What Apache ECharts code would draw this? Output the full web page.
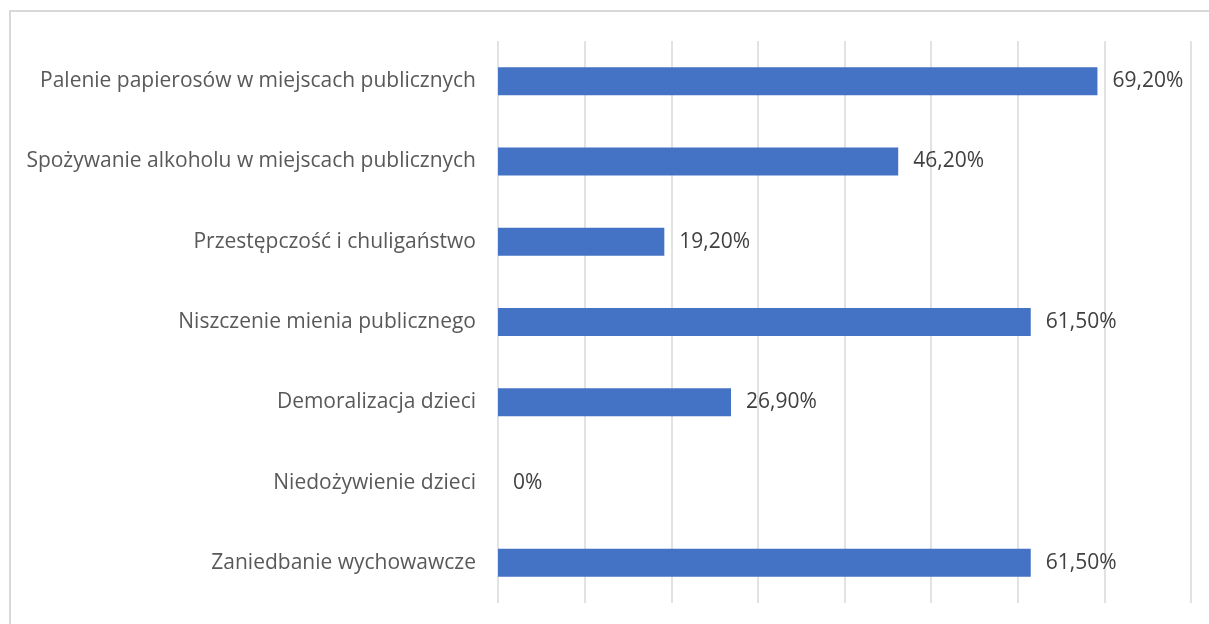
<!DOCTYPE html>
<html>
<head>
<meta charset="utf-8">
<script src="https://cdn.jsdelivr.net/npm/echarts@6/dist/echarts.min.js"></script>
<style>
  html, body { margin: 0; padding: 0; background: #fff; }
  #frame {
    position: absolute; left: 9px; top: 10px; width: 1260px; height: 680px;
    border-top: 2px solid #d9d9d9; border-left: 2px solid #d9d9d9;
    box-sizing: border-box;
  }
  #chart { position: absolute; left: 0; top: 0; width: 1209px; height: 624px; }
</style>
</head>
<body>
<div id="frame"></div>
<div id="chart"></div>
<script>
// categories from top to bottom, as in the picture
const categories = [
  'Palenie papierosów w miejscach publicznych',
  'Spożywanie alkoholu w miejscach publicznych',
  'Przestępczość i chuligaństwo',
  'Niszczenie mienia publicznego',
  'Demoralizacja dzieci',
  'Niedożywienie dzieci',
  'Zaniedbanie wychowawcze'
];
const values = [69.2, 46.2, 19.2, 61.5, 26.9, 0, 61.5];

const fmt = v => v === 0 ? '0%' : v.toFixed(2).replace('.', ',') + '%';

const chart = echarts.init(document.getElementById('chart'));
chart.setOption({
  animation: false,
  textStyle: { fontFamily: 'Open Sans' },
  grid: { left: 498, right: 18, top: 41, bottom: 21, containLabel: false },
  xAxis: {
    type: 'value',
    min: 0,
    max: 80,
    interval: 10,
    axisLabel: { show: false },
    axisLine: { show: false },
    axisTick: { show: false },
    splitLine: { lineStyle: { color: '#d9d9d9', width: 1.5 } }
  },
  yAxis: {
    type: 'category',
    inverse: true,
    data: categories,
    axisLine: { show: false },
    axisTick: { show: false },
    axisLabel: { color: '#595959', fontSize: 21, margin: 22 }
  },
  series: [{
    type: 'bar',
    data: values,
    barWidth: 28,
    itemStyle: { color: '#4472C4' },
    label: {
      show: true,
      position: 'right',
      distance: 15,
      color: '#404040',
      fontSize: 21,
      formatter: p => fmt(p.value)
    }
  }]
});
</script>
</body>
</html>
